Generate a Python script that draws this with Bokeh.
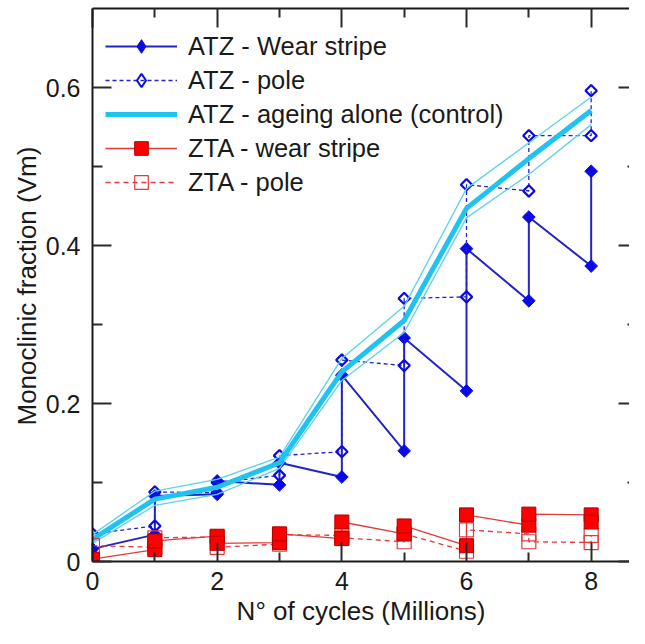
import numpy as np
from bokeh.plotting import figure
from bokeh.models import (Range1d, LinearAxis, FixedTicker, NumeralTickFormatter,
                          Legend, LegendItem, Title)
from bokeh.embed import file_html
from bokeh.resources import INLINE

# ---------------- data ----------------
# Two measurements per cycle count (drawn in measurement order)
cycles_pairs = [0, 1, 1, 2, 2, 3, 3, 4, 4, 5, 5, 6, 6, 7, 7, 8, 8]
atz_wear = [0.016, 0.034, 0.083, 0.085, 0.102, 0.097, 0.125, 0.107, 0.236,
            0.140, 0.283, 0.216, 0.396, 0.330, 0.436, 0.374, 0.494]
atz_pole = [0.035, 0.045, 0.088, 0.087, 0.100, 0.109, 0.134, 0.139, 0.255,
            0.248, 0.333, 0.335, 0.477, 0.469, 0.539, 0.539, 0.596]
zta_wear = [0.003, 0.015, 0.026, 0.032, 0.023, 0.024, 0.035, 0.029, 0.050,
            0.035, 0.045, 0.020, 0.059, 0.046, 0.060, 0.059, 0.050]
zta_pole = [0.020, 0.018, 0.030, 0.031, 0.018, 0.022, 0.034, 0.033, 0.030,
            0.025, 0.035, 0.013, 0.040, 0.035, 0.025, 0.024, 0.033]

cycles = [0, 1, 2, 3, 4, 5, 6, 7, 8]
ctrl_mean = [0.028, 0.079, 0.094, 0.125, 0.240, 0.305, 0.447, 0.510, 0.571]
ctrl_high = [0.034, 0.089, 0.104, 0.132, 0.257, 0.323, 0.472, 0.530, 0.588]
ctrl_low = [0.023, 0.071, 0.085, 0.118, 0.229, 0.290, 0.435, 0.490, 0.553]

x_major_ticks = [0, 2, 4, 6, 8]
x_minor_ticks = [1, 3, 5, 7]
y_major_ticks = [0, 0.2, 0.4, 0.6]
y_minor_ticks = [0.1, 0.3, 0.5]

labels = ["ATZ - Wear stripe", "ATZ - pole", "ATZ - ageing alone (control)",
          "ZTA - wear stripe", "ZTA - pole"]
x_title = "N° of cycles (Millions)"
y_title = "Monoclinic fraction (Vm)"

# ---------------- styling ----------------
FONT = "Liberation Sans"
TXT = "#1a1a1a"
BLUE = "#0a0ae8"
BLUE_LINE = "#2323c8"
CYAN = "#1ec3ef"
CYAN_THIN = "#5cd2ee"
RED = "#ff0000"
RED_EDGE = "#b00000"
RED_LINE = "#e23a3a"

p = figure(width=629, height=628,
           x_range=Range1d(0, 8.615), y_range=Range1d(0, 0.7),
           output_backend="svg", toolbar_location=None,
           x_axis_location=None, y_axis_location=None,
           min_border_left=92, min_border_right=0,
           min_border_top=8, min_border_bottom=60)
p.outline_line_color = None
p.grid.grid_line_color = None
p.background_fill_color = "white"
p.border_fill_color = "white"


def style_axis(ax, major_in, minor_in, show_labels):
    ax.axis_line_color = TXT
    ax.axis_line_width = 2
    ax.major_tick_line_color = "#2a2a2a"
    ax.major_tick_line_width = 2
    ax.minor_tick_line_color = "#2a2a2a"
    ax.minor_tick_line_width = 2
    ax.major_tick_in = major_in
    ax.major_tick_out = 0
    ax.minor_tick_in = minor_in
    ax.minor_tick_out = 0
    if show_labels:
        ax.major_label_text_font = FONT
        ax.major_label_text_font_size = "25px"
        ax.major_label_text_color = TXT
        ax.axis_label_text_font = FONT
        ax.axis_label_text_font_size = "26px"
        ax.axis_label_text_font_style = "normal"
        ax.axis_label_text_color = TXT
    else:
        ax.major_label_text_font_size = "0px"
        ax.major_label_standoff = 0
        ax.major_label_text_alpha = 0


xb = LinearAxis(ticker=FixedTicker(ticks=x_major_ticks, minor_ticks=x_minor_ticks),
                axis_label=x_title)
style_axis(xb, 19, 9, True)
xb.major_label_standoff = 10
xb.axis_label_standoff = 3
p.add_layout(xb, "below")

xt = LinearAxis(ticker=FixedTicker(ticks=x_major_ticks, minor_ticks=x_minor_ticks))
style_axis(xt, 19, 9, False)
p.add_layout(xt, "above")

yl = LinearAxis(ticker=FixedTicker(ticks=y_major_ticks, minor_ticks=y_minor_ticks),
                formatter=NumeralTickFormatter(format="0.[0]"))
style_axis(yl, 19, 10, True)
yl.major_label_standoff = 12
p.add_layout(yl, "left")

yr = LinearAxis(ticker=FixedTicker(ticks=y_major_ticks, minor_ticks=y_minor_ticks))
style_axis(yr, 11, 2, False)
yr.axis_line_color = None
p.add_layout(yr, "right")

# y axis title (as a side title so it can be shifted along the axis)
yt = Title(text=y_title, align="left", offset=136, standoff=2,
           text_font=FONT, text_font_size="26px", text_font_style="normal",
           text_color=TXT)
p.add_layout(yt, "left")

# ---------------- glyphs ----------------
DIAMOND_ANGLE = np.pi / 4

# ATZ wear stripe
l_aw = p.line(cycles_pairs, atz_wear, line_color=BLUE_LINE, line_width=2)
s_aw = p.scatter(cycles_pairs, atz_wear, marker="square", angle=DIAMOND_ANGLE, size=9,
                 fill_color=BLUE, line_color=BLUE, line_width=1)
# ATZ pole
l_ap = p.line(cycles_pairs, atz_pole, line_color=BLUE_LINE, line_width=1.3, line_dash="4 3")
s_ap = p.scatter(cycles_pairs, atz_pole, marker="square", angle=DIAMOND_ANGLE, size=8,
                 fill_color=None, line_color=BLUE, line_width=2.2)
# legend-only diamond glyphs (a single empty point)
lg_aw = p.scatter([np.nan], [np.nan], marker="diamond", size=10, fill_color=BLUE,
                  line_color=BLUE, line_width=1)
lg_ap = p.scatter([np.nan], [np.nan], marker="diamond", size=10, fill_color=None,
                  line_color=BLUE, line_width=2)
# ATZ control band + mean
p.line(cycles, ctrl_high, line_color=CYAN_THIN, line_width=1.3)
p.line(cycles, ctrl_low, line_color=CYAN_THIN, line_width=1.3)
l_ctrl = p.line(cycles, ctrl_mean, line_color=CYAN, line_width=5)
# ZTA pole
l_zp = p.line(cycles_pairs, zta_pole, line_color=RED_LINE, line_width=1.3, line_dash="5 4")
s_zp = p.scatter(cycles_pairs, zta_pole, marker="square", size=14,
                 fill_color=None, line_color=RED_LINE, line_width=1.2)
# ZTA wear stripe
l_zw = p.line(cycles_pairs, zta_wear, line_color=RED_LINE, line_width=1.3)
s_zw = p.scatter(cycles_pairs, zta_wear, marker="square", size=14,
                 fill_color=RED, line_color=RED_EDGE, line_width=1)

legend = Legend(items=[
    LegendItem(label=labels[0], renderers=[l_aw, lg_aw]),
    LegendItem(label=labels[1], renderers=[l_ap, lg_ap]),
    LegendItem(label=labels[2], renderers=[l_ctrl]),
    LegendItem(label=labels[3], renderers=[l_zw, s_zw]),
    LegendItem(label=labels[4], renderers=[l_zp, s_zp]),
], location=(13, 362))
legend.label_text_font = FONT
legend.label_text_font_size = "25.5px"
legend.label_text_color = TXT
legend.glyph_width = 72
legend.glyph_height = 34
legend.label_height = 34
legend.label_standoff = 11
legend.spacing = 0
legend.padding = 0
legend.margin = 0
legend.border_line_color = None
legend.background_fill_alpha = 0
p.add_layout(legend)

open("out.html", "w").write(file_html(p, INLINE))
